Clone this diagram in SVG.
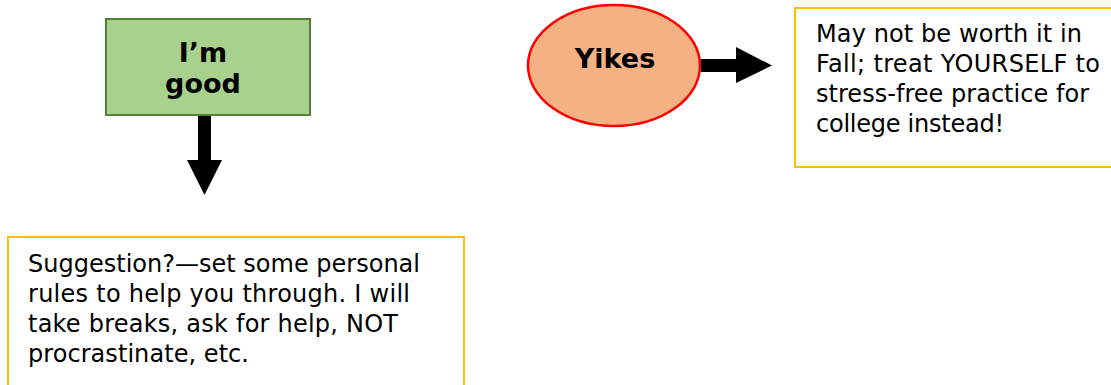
<svg xmlns="http://www.w3.org/2000/svg" width="1111" height="385" viewBox="0 0 1111 385">
  <style>
    .lbl { font-family: Verdana, "DejaVu Sans", sans-serif; font-weight: bold; font-size: 27px; fill: #000; text-anchor: middle; }
    .body { font-family: Verdana, "DejaVu Sans", sans-serif; font-size: 24px; fill: #000; }
    .note { fill: #fff; stroke: #FFC000; stroke-width: 2; }
    .arrow { fill: #000; }
  </style>
  <rect width="1111" height="385" fill="#fff"/>
  <g id="node-good">
    <rect x="106" y="19" width="204" height="96" fill="#A9D18E" stroke="#548235" stroke-width="2"/>
    <text class="lbl" x="203" y="62">I’m</text>
    <text class="lbl" x="203" y="93">good</text>
  </g>
  <g id="node-yikes">
    <ellipse cx="614" cy="65.5" rx="86" ry="60.5" fill="#F4B183" stroke="#FF0000" stroke-width="2.5"/>
    <text class="lbl" x="615" y="68">Yikes</text>
  </g>
  <g id="node-note-right">
    <rect class="note" x="795" y="8" width="330" height="159"/>
    <text class="body" x="816" y="42" textLength="266">May not be worth it in</text>
    <text class="body" x="816" y="72" textLength="284">Fall; treat YOURSELF to</text>
    <text class="body" x="816" y="102" textLength="273">stress-free practice for</text>
    <text class="body" x="816" y="132" textLength="188">college instead!</text>
  </g>
  <g id="node-note-bottom">
    <rect class="note" x="8" y="237" width="456" height="160"/>
    <text class="body" x="28" y="272" textLength="392">Suggestion?—set some personal</text>
    <text class="body" x="28" y="302" textLength="382">rules to help you through. I will</text>
    <text class="body" x="28" y="332" textLength="370">take breaks, ask for help, NOT</text>
    <text class="body" x="28" y="362" textLength="221">procrastinate, etc.</text>
  </g>
  <g id="connectors">
    <polygon class="arrow" points="198,116 211,116 211,160 222,160 204.5,195 187,160 198,160"/>
    <polygon class="arrow" points="701,59 736,59 736,47 772,65.5 736,83 736,72 701,72"/>
  </g>
</svg>
